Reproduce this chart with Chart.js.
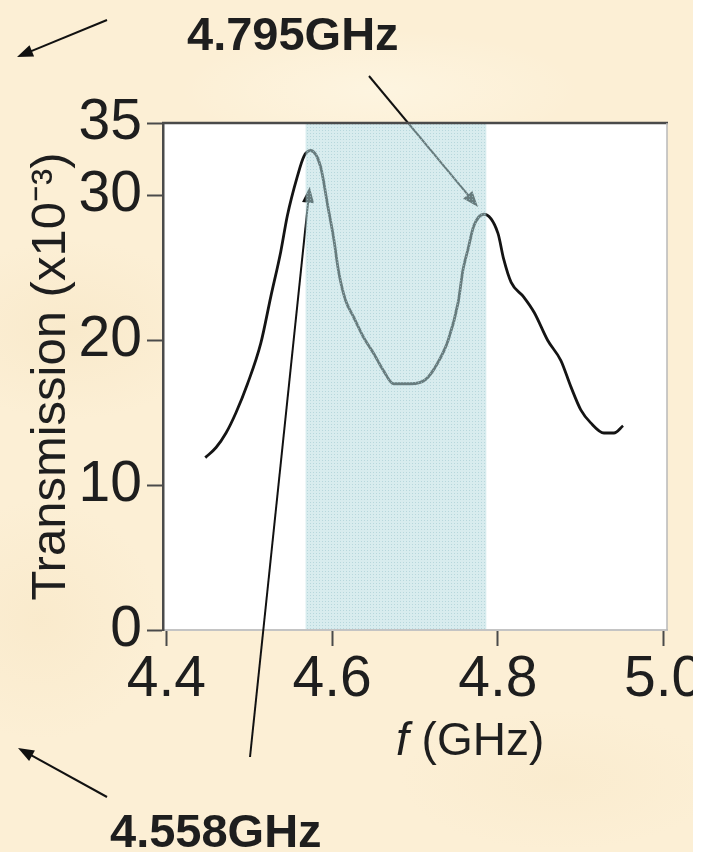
<!DOCTYPE html>
<html>
<head>
<meta charset="utf-8">
<script src="https://cdn.jsdelivr.net/npm/chart.js@4"></script>
<style>
  html, body { margin: 0; padding: 0; background: #fff; }
  #wrap {
    position: relative; width: 693px; height: 852px; overflow: hidden;
    background:
      radial-gradient(ellipse 140px 90px at 70px 330px, rgba(240,218,175,0.25), rgba(240,218,175,0)),
      radial-gradient(ellipse 160px 70px at 560px 780px, rgba(242,222,182,0.2), rgba(242,222,182,0)),
      radial-gradient(ellipse 120px 120px at 40px 620px, rgba(240,216,170,0.2), rgba(240,216,170,0)),
      radial-gradient(ellipse 200px 60px at 380px 90px, rgba(255,250,235,0.5), rgba(255,250,235,0)),
      #fcefd5;
  }
  canvas { position: absolute; left: 0; top: 0; }
  .lbl { position: absolute; font-family: "Liberation Sans", Arial, sans-serif; color: #1e1e1e; white-space: nowrap; line-height: 1; }
  .big { font-weight: bold; font-size: 47px; }
  #xtitle { font-size: 46px; }
</style>
</head>
<body>
<div id="wrap">
  <canvas id="chart" width="713" height="852"></canvas>
  <div class="lbl big" style="left:187px; top:10px;">4.795GHz</div>
  <div class="lbl big" style="left:110px; top:807px;">4.558GHz</div>
  <div class="lbl" id="xtitle" style="left:396px; top:716px;"><i>f</i> (GHz)</div>
</div>
<script>
// ===============================
// Data
// ===============================
const freq = [4.447, 4.460, 4.472, 4.484, 4.498, 4.514, 4.526, 4.538, 4.546, 4.558,
              4.566, 4.574, 4.586, 4.595, 4.602, 4.608, 4.616, 4.626, 4.638, 4.650,
              4.662, 4.674, 4.695, 4.713, 4.727, 4.740, 4.752, 4.758, 4.764, 4.771,
              4.783, 4.800, 4.807, 4.816, 4.831, 4.844, 4.860, 4.876, 4.888, 4.900,
              4.912, 4.928, 4.940, 4.951];
const transmission = [11.9, 12.6, 13.6, 15.0, 17.0, 19.8, 23.0, 26.1, 28.6, 31.3,
                      32.7, 33.1, 32.0, 29.2, 27.0, 24.7, 22.8, 21.6, 20.2, 19.1,
                      17.9, 17.0, 17.0, 17.3, 18.4, 20.0, 22.6, 24.9, 26.3, 27.9,
                      28.7, 27.4, 25.6, 24.0, 23.0, 21.9, 20.0, 18.6, 16.8, 15.2,
                      14.3, 13.6, 13.6, 14.1];
const xTicks = [4.4, 4.6, 4.8, 5.0];
const yTicks = [0, 10, 20, 30, 35];
const band = [4.568, 4.786];          // shaded band (GHz)
const arrowTips = [[4.776, 29.2], [4.573, 30.6]];  // in-plot arrow tips (GHz, x10^-3)

// ===============================
// Annotation geometry (pixels)
// ===============================
const arrowTails = [[369, 76], [250, 757]];
const looseArrows = [[107, 20, 17, 57], [107, 797, 18, 748]];

const FONT = '"Liberation Sans", Arial, sans-serif';
const INK = '#1e1e1e';

function drawArrow(ctx, x0, y0, x1, y1) {
  const a = Math.atan2(y1 - y0, x1 - x0), L = 16, W = 6;
  const c = Math.cos(a), s = Math.sin(a);
  ctx.beginPath();
  ctx.moveTo(x0, y0);
  ctx.lineTo(x1 - L * 0.8 * c, y1 - L * 0.8 * s);
  ctx.stroke();
  ctx.beginPath();
  ctx.moveTo(x1, y1);
  ctx.lineTo(x1 - L * c + W * s, y1 - L * s - W * c);
  ctx.lineTo(x1 - L * c - W * s, y1 - L * s + W * c);
  ctx.closePath();
  ctx.fill();
}

// translucent band fill with a faint dot texture
function bandPattern(ctx) {
  const p = document.createElement('canvas');
  p.width = 3; p.height = 3;
  const pc = p.getContext('2d');
  pc.fillStyle = 'rgba(181,219,223,0.525)';
  pc.fillRect(0, 0, 3, 3);
  pc.fillStyle = 'rgba(160,200,206,0.6)';
  pc.fillRect(1, 1, 1, 1);
  return ctx.createPattern(p, 'repeat');
}

const framePlugin = {
  id: 'frame',
  beforeDraw(chart) {
    const { ctx, chartArea: a } = chart;
    ctx.save();
    ctx.fillStyle = '#fff';
    ctx.fillRect(a.left, a.top, a.width, a.height);
    ctx.restore();
  },
  afterDatasetsDraw(chart) {
    const { ctx, chartArea: a, scales: { x, y } } = chart;
    ctx.save();
    ctx.strokeStyle = '#111';
    ctx.fillStyle = '#111';
    ctx.lineWidth = 2;
    arrowTips.forEach((t, i) => {
      const [tx, ty] = arrowTails[i];
      drawArrow(ctx, tx, ty, x.getPixelForValue(t[0]), y.getPixelForValue(t[1]));
    });
    looseArrows.forEach(l => drawArrow(ctx, ...l));

    // shaded band sits on top, so the curve and arrows go grey under it
    const x0 = x.getPixelForValue(band[0]), x1 = x.getPixelForValue(band[1]);
    ctx.fillStyle = bandPattern(ctx);
    ctx.fillRect(x0, a.top, x1 - x0, a.bottom - a.top - 1);

    // top and right frame
    ctx.strokeStyle = '#4a4a4a';
    ctx.lineWidth = 2.5;
    ctx.beginPath();
    ctx.moveTo(a.left - 1, a.top);
    ctx.lineTo(a.right + 1, a.top);
    ctx.stroke();
    ctx.strokeStyle = '#b8b8b8';
    ctx.lineWidth = 1.5;
    ctx.beginPath();
    ctx.moveTo(a.right, a.top);
    ctx.lineTo(a.right, a.bottom);
    ctx.stroke();
    ctx.restore();
  }
};

new Chart(document.getElementById('chart'), {
  type: 'line',
  data: {
    datasets: [{
      data: freq.map((f, i) => ({ x: f, y: transmission[i] })),
      borderColor: '#141414',
      borderWidth: 2.8,
      pointRadius: 0,
      cubicInterpolationMode: 'monotone',
      fill: false
    }]
  },
  options: {
    responsive: false,
    animation: false,
    events: [],
    layout: { padding: { top: 123, right: 46, left: 0, bottom: 0 } },
    plugins: { legend: { display: false }, tooltip: { enabled: false } },
    scales: {
      x: {
        type: 'linear',
        min: 4.396,
        max: 5.004,
        afterBuildTicks: s => { s.ticks = xTicks.map(v => ({ value: v })); },
        afterFit: s => { s.height = 222; },
        ticks: {
          font: { size: 57, family: FONT },
          color: INK,
          padding: 0,
          maxRotation: 0,
          autoSkip: false,
          callback: v => v.toFixed(1)
        },
        grid: { drawOnChartArea: false, tickLength: 16, tickColor: '#4a4a4a', tickWidth: 2 },
        border: { color: '#c4c4c4', width: 2 }
      },
      y: {
        min: 0,
        max: 35,
        afterBuildTicks: s => { s.ticks = yTicks.map(v => ({ value: v })); },
        afterFit: s => { s.width = 163; },
        ticks: {
          font: { size: 57, family: FONT },
          color: INK,
          padding: 5
        },
        grid: { drawOnChartArea: false, tickLength: 16, tickColor: '#4a4a4a', tickWidth: 2 },
        border: { color: '#4a4a4a', width: 2.5 },
        title: {
          display: true,
          text: 'Transmission (x10\u207B\u00B3)',
          font: { size: 49, family: FONT },
          color: INK,
          padding: { top: 22, bottom: 0 }
        }
      }
    }
  },
  plugins: [framePlugin]
});
</script>
</body>
</html>
